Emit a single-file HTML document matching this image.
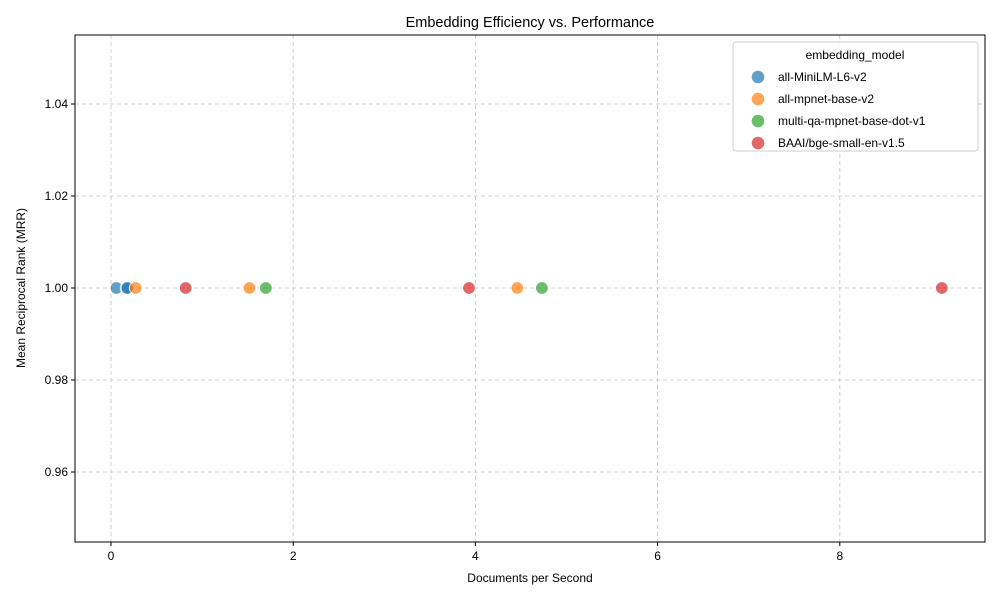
<!DOCTYPE html>
<html><head><meta charset="utf-8"><style>
body{margin:0;background:#fff;font-family:"Liberation Sans","DejaVu Sans",sans-serif}
</style></head><body>
<svg id="c" width="1000" height="600" xmlns="http://www.w3.org/2000/svg"></svg>
<script>
const models=["all-MiniLM-L6-v2","all-mpnet-base-v2","multi-qa-mpnet-base-dot-v1","BAAI/bge-small-en-v1.5"];
const colors=["#1f77b4","#ff7f0e","#2ca02c","#d62728"];
const xMini=[0.06,0.17,0.18];
const yMini=[1.0,1.0,1.0];
const xMpnet=[0.27,1.52,4.46];
const yMpnet=[1.0,1.0,1.0];
const xDot=[1.70,4.73];
const yDot=[1.0,1.0];
const xBge=[0.82,3.93,9.12];
const yBge=[1.0,1.0,1.0];
const xTicks=[0,2,4,6,8];
const yTicks=[0.96,0.98,1.00,1.02,1.04];
const L=75,R=985,T=35,B=542;
const X=v=>111+(v)*91.1;
const Y=v=>288-(v-1.0)*4600;
const s=document.getElementById('c');const NS="http://www.w3.org/2000/svg";
function el(t,a,txt){const e=document.createElementNS(NS,t);for(const k in a)e.setAttribute(k,a[k]);if(txt!==undefined)e.textContent=txt;s.appendChild(e);return e;}
xTicks.forEach(t=>{
 const g=el('line',{x1:X(t),x2:X(t),y1:T,y2:B,stroke:'#c4c4c4','stroke-dasharray':'4,3','stroke-width':0.8});
 
 el('line',{x1:X(t),x2:X(t),y1:B,y2:B+4,stroke:'#000'});
 const l=el('text',{x:X(t),y:B+18,'text-anchor':'middle','font-size':12},String(t));
 
});
yTicks.forEach(t=>{
 const g=el('line',{x1:L,x2:R,y1:Y(t),y2:Y(t),stroke:'#c4c4c4','stroke-dasharray':'4,3','stroke-width':0.8});
 
 el('line',{x1:L-4,x2:L,y1:Y(t),y2:Y(t),stroke:'#000'});
 const l=el('text',{x:L-7,y:Y(t)+4,'text-anchor':'end','font-size':12},t.toFixed(2));
 
});
const series=[[xMini,yMini],[xMpnet,yMpnet],[xDot,yDot],[xBge,yBge]];
series.forEach((sr,i)=>{sr[0].forEach((x,j)=>{
 const c=el('circle',{cx:X(x),cy:Y(sr[1][j]),r:6.3,fill:colors[i],'fill-opacity':0.7,stroke:'#fff','stroke-width':0.8});
 
});});
const fr=el('rect',{x:L,y:T,width:R-L,height:B-T,fill:'none',stroke:'#000','stroke-width':1});

const ti=el('text',{x:530,y:27,'text-anchor':'middle','font-size':14.5},'Embedding Efficiency vs. Performance');

const xt=el('text',{x:530,y:582,'text-anchor':'middle','font-size':12},'Documents per Second');

const yt=el('text',{x:25,y:288,'text-anchor':'middle','font-size':12,transform:'rotate(-90 25 288)'},'Mean Reciprocal Rank (MRR)');

const lb=el('rect',{x:733,y:42,width:245,height:109,rx:3,fill:'#fff','fill-opacity':0.85,stroke:'#ccc'});

const lt=el('text',{x:855,y:59,'text-anchor':'middle','font-size':12},'embedding_model');

models.forEach((m,i)=>{
 const y=81+i*22;
 const c=el('circle',{cx:758,cy:y-4,r:6.3,fill:colors[i],'fill-opacity':0.7});
 
 const t=el('text',{x:778,y:y,'font-size':12},m);
 
});
</script>
</body></html>
